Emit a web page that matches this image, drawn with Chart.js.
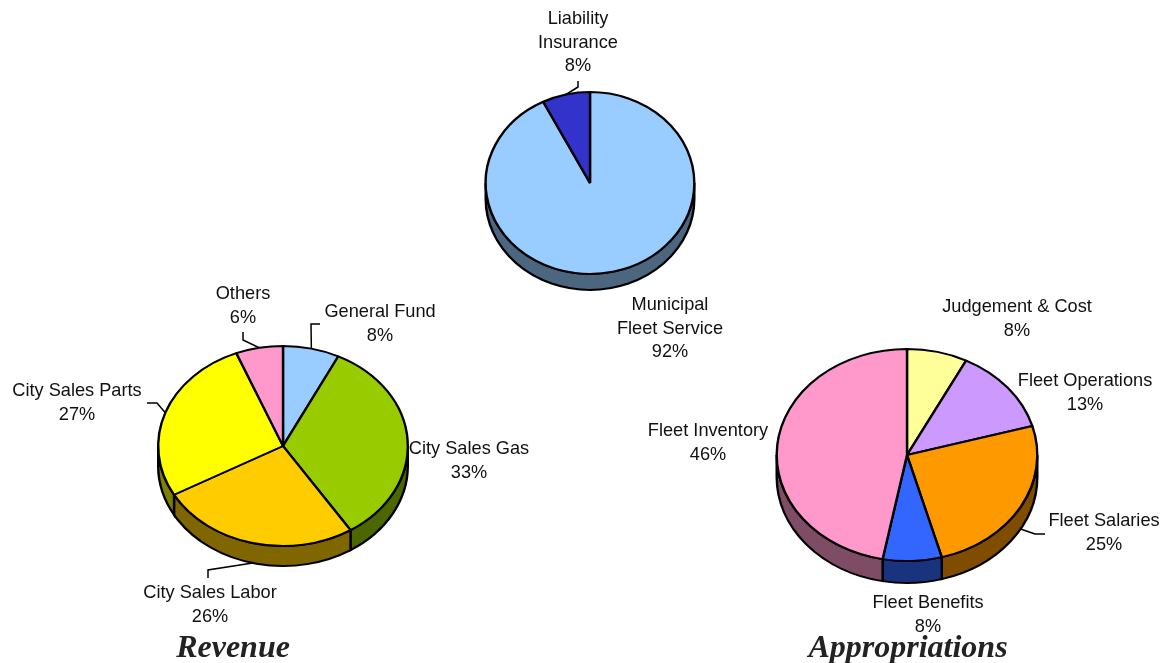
<!DOCTYPE html>
<html>
<head>
<meta charset="utf-8">
<title>Fleet Service Funds</title>
<script src="https://cdn.jsdelivr.net/npm/chart.js@4"></script>
<style>
    html, body { margin: 0; padding: 0; background: #fff; overflow: hidden; }
    #stage { position: relative; width: 1162px; height: 663px; }
    #stage canvas { position: absolute; left: 0; top: 0; }
</style>
</head>
<body>
<div id="stage">
    <canvas id="fund-chart" width="1162" height="663"></canvas>
    <canvas id="revenue-chart" width="1162" height="663"></canvas>
    <canvas id="appropriations-chart" width="1162" height="663"></canvas>
</div>
<script>
// Data: slice sizes as drawn, percentages as printed
const fundLabels = [['Municipal', 'Fleet Service'], ['Liability', 'Insurance']];
const fundValues = [92.6, 7.4];
const fundPercents = ['92%', '8%'];
const fundColors = ['#99CCFF', '#3333CC'];

const revenueLabels = ['General Fund', 'City Sales Gas', 'City Sales Labor', 'City Sales Parts', 'Others'];
const revenueValues = [7.3, 33.6, 26, 27, 6.1];
const revenuePercents = ['8%', '33%', '26%', '27%', '6%'];
const revenueColors = ['#99CCFF', '#99CC00', '#FFCC00', '#FFFF00', '#FF99CC'];

const appropriationLabels = ['Judgement & Cost', 'Fleet Operations', 'Fleet Salaries', 'Fleet Benefits', 'Fleet Inventory'];
const appropriationValues = [7.5, 13.1, 25.1, 7.3, 47];
const appropriationPercents = ['8%', '13%', '25%', '8%', '46%'];
const appropriationColors = ['#FFFF99', '#CC99FF', '#FF9900', '#3366FF', '#FF99CC'];

const WIDTH = 1162;
const HEIGHT = 663;
const LABEL_FONT = '18.2px "Liberation Sans", Arial, sans-serif';
const TITLE_FONT = 'italic bold 32px "Liberation Serif", "Times New Roman", serif';
const LINE_HEIGHT = 23.5;
const EDGE_WIDTH = 2.4;

function halfColor(hex) {
    const n = parseInt(hex.slice(1), 16);
    const r = (n >> 16) >> 1;
    const g = ((n >> 8) & 255) >> 1;
    const b = (n & 255) >> 1;
    return `rgb(${r}, ${g}, ${b})`;
}

// Squashes the round pie into a tilted disc and draws the rim below it
function tiltPlugin(layout) {
    const squash = layout.ry / layout.rx;
    return {
        id: 'tilt',
        beforeDatasetsDraw(chart) {
            const ctx = chart.ctx;
            const arcs = chart.getDatasetMeta(0).data;
            const depth = layout.depth / squash;
            ctx.save();
            ctx.translate(layout.cx, layout.cy);
            ctx.scale(1, squash);
            ctx.translate(-layout.cx, -layout.cy);
            arcs.forEach((arc, i) => {
                const from = Math.max(arc.startAngle, 0);
                const to = Math.min(arc.endAngle, Math.PI);
                if (to <= from) return;
                ctx.beginPath();
                ctx.arc(arc.x, arc.y + depth, arc.outerRadius, from, to);
                ctx.arc(arc.x, arc.y, arc.outerRadius, to, from, true);
                ctx.closePath();
                ctx.fillStyle = halfColor(chart.data.datasets[0].backgroundColor[i]);
                ctx.fill();
                ctx.lineWidth = EDGE_WIDTH;
                ctx.strokeStyle = '#000';
                ctx.stroke();
            });
        },
        afterDatasetsDraw(chart) {
            const ctx = chart.ctx;
            const arcs = chart.getDatasetMeta(0).data;
            ctx.restore();

            // leader lines start on the slice edge
            ctx.save();
            ctx.strokeStyle = '#000';
            ctx.lineWidth = 1.5;
            layout.leaders.forEach(leader => {
                const arc = arcs[leader.slice];
                const mid = (arc.startAngle + arc.endAngle) / 2;
                ctx.beginPath();
                ctx.moveTo(
                    arc.x + arc.outerRadius * Math.cos(mid),
                    layout.cy + arc.outerRadius * Math.sin(mid) * squash + (leader.onRim ? layout.depth : 0)
                );
                leader.path.forEach(p => ctx.lineTo(p[0], p[1]));
                ctx.stroke();
            });
            ctx.restore();

            // slice labels
            ctx.save();
            ctx.fillStyle = '#111';
            ctx.font = LABEL_FONT;
            ctx.textAlign = 'center';
            ctx.textBaseline = 'middle';
            chart.data.labels.forEach((label, i) => {
                const lines = [].concat(label, layout.percents[i]);
                const spot = layout.labelSpots[i];
                lines.forEach((line, n) => ctx.fillText(line, spot[0], spot[1] + n * LINE_HEIGHT));
            });
            if (layout.title) {
                ctx.font = TITLE_FONT;
                ctx.fillStyle = '#222';
                ctx.fillText(layout.title, layout.titleAt[0], layout.titleAt[1]);
            }
            ctx.restore();
        }
    };
}

function drawPie(canvasId, labels, values, colors, layout) {
    new Chart(document.getElementById(canvasId), {
        type: 'pie',
        data: {
            labels: labels,
            datasets: [{
                data: values,
                backgroundColor: colors,
                borderColor: '#000',
                borderWidth: EDGE_WIDTH,
                clip: false
            }]
        },
        options: {
            responsive: false,
            animation: false,
            devicePixelRatio: 1,
            events: [],
            layout: {
                padding: {
                    left: layout.cx - layout.rx,
                    right: WIDTH - layout.cx - layout.rx,
                    top: layout.cy - layout.rx,
                    bottom: HEIGHT - layout.cy - layout.rx
                }
            },
            plugins: {
                legend: { display: false },
                tooltip: { enabled: false }
            }
        },
        plugins: [tiltPlugin(layout)]
    });
}

drawPie('fund-chart', fundLabels, fundValues, fundColors, {
    cx: 590, cy: 183, rx: 105.5, ry: 92, depth: 16,
    percents: fundPercents,
    labelSpots: [[670, 305], [578, 19]],
    leaders: [{ slice: 1, path: [[578, 87], [578, 81]] }]
});

drawPie('revenue-chart', revenueLabels, revenueValues, revenueColors, {
    cx: 283, cy: 446, rx: 126, ry: 101, depth: 20,
    percents: revenuePercents,
    labelSpots: [[380, 312], [469, 449], [210, 593], [77, 391], [243, 294]],
    leaders: [
        { slice: 0, path: [[311, 324], [320, 324]] },
        { slice: 2, onRim: true, path: [[208, 570], [208, 578]] },
        { slice: 3, path: [[157, 403], [147, 403]] },
        { slice: 4, path: [[243, 340], [243, 332]] }
    ],
    title: 'Revenue',
    titleAt: [233, 649]
});

drawPie('appropriations-chart', appropriationLabels, appropriationValues, appropriationColors, {
    cx: 907, cy: 455, rx: 131.5, ry: 107, depth: 22,
    percents: appropriationPercents,
    labelSpots: [[1017, 307], [1085, 381], [1104, 521], [928, 603], [708, 431]],
    leaders: [{ slice: 2, onRim: true, path: [[1035, 534], [1045, 534]] }],
    title: 'Appropriations',
    titleAt: [908, 649]
});
</script>
</body>
</html>
